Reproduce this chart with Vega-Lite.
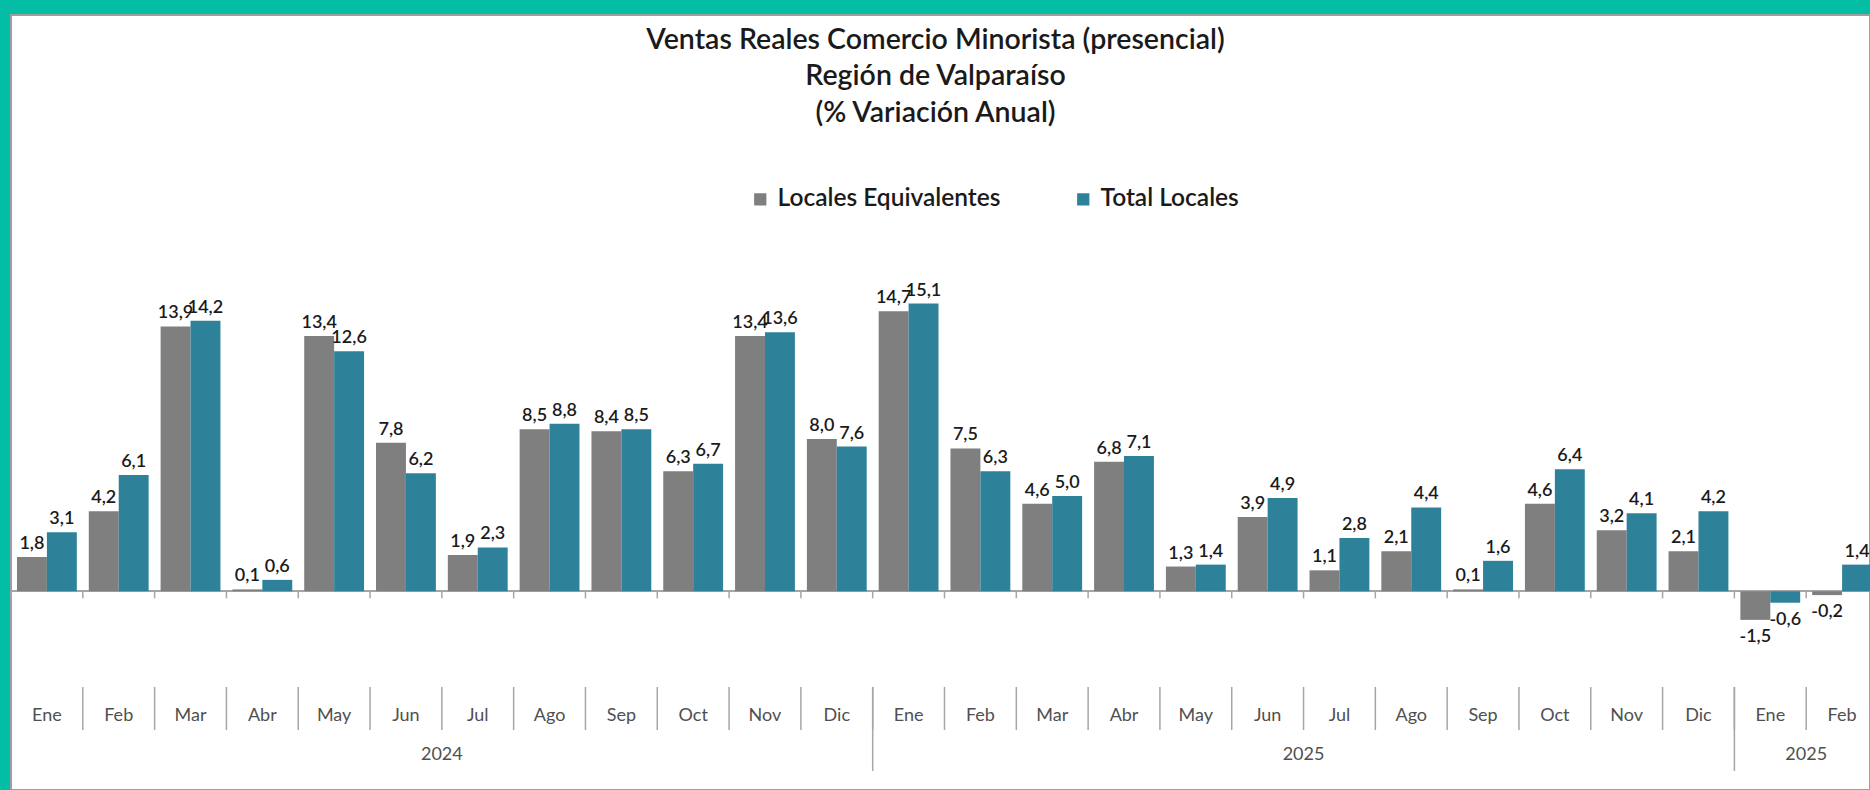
{
  "$schema": "https://vega.github.io/schema/vega-lite/v6.json",
  "width": 1859,
  "height": 775,
  "autosize": {"type": "none"},
  "padding": {"left": 11, "top": 15, "right": 0, "bottom": 0},
  "background": "#03BEA4",
  "title": {
    "text": ["Ventas Reales Comercio Minorista (presencial)", "Región de Valparaíso", "(% Variación Anual)"],
    "font": "Lato",
    "fontSize": 28.5,
    "fontWeight": 600,
    "color": "#1a1a1a",
    "lineHeight": 36.5,
    "anchor": "middle",
    "baseline": "top",
    "offset": 0,
    "dx": -5,
    "dy": 112
  },
  "data": {
    "values": [
      {"p": "2024-01", "mes": "Ene", "anio": "2024", "Locales Equivalentes": 1.8, "Total Locales": 3.1},
      {"p": "2024-02", "mes": "Feb", "anio": "2024", "Locales Equivalentes": 4.2, "Total Locales": 6.1},
      {"p": "2024-03", "mes": "Mar", "anio": "2024", "Locales Equivalentes": 13.9, "Total Locales": 14.2},
      {"p": "2024-04", "mes": "Abr", "anio": "2024", "Locales Equivalentes": 0.1, "Total Locales": 0.6},
      {"p": "2024-05", "mes": "May", "anio": "2024", "Locales Equivalentes": 13.4, "Total Locales": 12.6},
      {"p": "2024-06", "mes": "Jun", "anio": "2024", "Locales Equivalentes": 7.8, "Total Locales": 6.2},
      {"p": "2024-07", "mes": "Jul", "anio": "2024", "Locales Equivalentes": 1.9, "Total Locales": 2.3},
      {"p": "2024-08", "mes": "Ago", "anio": "2024", "Locales Equivalentes": 8.5, "Total Locales": 8.8},
      {"p": "2024-09", "mes": "Sep", "anio": "2024", "Locales Equivalentes": 8.4, "Total Locales": 8.5},
      {"p": "2024-10", "mes": "Oct", "anio": "2024", "Locales Equivalentes": 6.3, "Total Locales": 6.7},
      {"p": "2024-11", "mes": "Nov", "anio": "2024", "Locales Equivalentes": 13.4, "Total Locales": 13.6},
      {"p": "2024-12", "mes": "Dic", "anio": "2024", "Locales Equivalentes": 8.0, "Total Locales": 7.6},
      {"p": "2025-01", "mes": "Ene", "anio": "2025", "Locales Equivalentes": 14.7, "Total Locales": 15.1},
      {"p": "2025-02", "mes": "Feb", "anio": "2025", "Locales Equivalentes": 7.5, "Total Locales": 6.3},
      {"p": "2025-03", "mes": "Mar", "anio": "2025", "Locales Equivalentes": 4.6, "Total Locales": 5.0},
      {"p": "2025-04", "mes": "Abr", "anio": "2025", "Locales Equivalentes": 6.8, "Total Locales": 7.1},
      {"p": "2025-05", "mes": "May", "anio": "2025", "Locales Equivalentes": 1.3, "Total Locales": 1.4},
      {"p": "2025-06", "mes": "Jun", "anio": "2025", "Locales Equivalentes": 3.9, "Total Locales": 4.9},
      {"p": "2025-07", "mes": "Jul", "anio": "2025", "Locales Equivalentes": 1.1, "Total Locales": 2.8},
      {"p": "2025-08", "mes": "Ago", "anio": "2025", "Locales Equivalentes": 2.1, "Total Locales": 4.4},
      {"p": "2025-09", "mes": "Sep", "anio": "2025", "Locales Equivalentes": 0.1, "Total Locales": 1.6},
      {"p": "2025-10", "mes": "Oct", "anio": "2025", "Locales Equivalentes": 4.6, "Total Locales": 6.4},
      {"p": "2025-11", "mes": "Nov", "anio": "2025", "Locales Equivalentes": 3.2, "Total Locales": 4.1},
      {"p": "2025-12", "mes": "Dic", "anio": "2025", "Locales Equivalentes": 2.1, "Total Locales": 4.2},
      {"p": "2026-01", "mes": "Ene", "anio": "2025", "Locales Equivalentes": -1.5, "Total Locales": -0.6},
      {"p": "2026-02", "mes": "Feb", "anio": "2025", "Locales Equivalentes": -0.2, "Total Locales": 1.4}
    ]
  },
  "layer": [
    {
      "mark": {"type": "rule", "color": "#A6A6A6", "strokeWidth": 1.5},
      "encoding": {
        "y": {"datum": 0, "type": "quantitative", "scale": {"domain": [-10.43, 30.25], "nice": false, "zero": false}, "axis": null}
      }
    },
    {
      "mark": {"type": "rule", "color": "#A6A6A6", "strokeWidth": 1.5},
      "encoding": {
        "x": {"field": "p", "type": "ordinal", "sort": "ascending", "bandPosition": 0, "scale": {"type": "band", "paddingInner": 0, "paddingOuter": 0, "range": [0, 1867]}, "axis": null},
        "y": {"datum": 0, "type": "quantitative", "scale": {"domain": [-10.43, 30.25], "nice": false, "zero": false}, "axis": null},
        "y2": {"datum": -0.37}
      }
    },
    {
      "transform": [{"filter": "datum.p != '2024-01'"}],
      "mark": {"type": "rule", "color": "#A6A6A6", "strokeWidth": 1.5},
      "encoding": {
        "x": {"field": "p", "type": "ordinal", "sort": "ascending", "bandPosition": 0, "scale": {"type": "band", "paddingInner": 0, "paddingOuter": 0, "range": [0, 1867]}, "axis": null},
        "y": {"datum": -5.02, "type": "quantitative", "scale": {"domain": [-10.43, 30.25], "nice": false, "zero": false}, "axis": null},
        "y2": {"datum": -7.28}
      }
    },
    {
      "transform": [{"filter": "datum.mes == 'Ene' && datum.p != '2024-01'"}],
      "mark": {"type": "rule", "color": "#A6A6A6", "strokeWidth": 1.5},
      "encoding": {
        "x": {"field": "p", "type": "ordinal", "sort": "ascending", "bandPosition": 0, "scale": {"type": "band", "paddingInner": 0, "paddingOuter": 0, "range": [0, 1867]}, "axis": null},
        "y": {"datum": -5.02, "type": "quantitative", "scale": {"domain": [-10.43, 30.25], "nice": false, "zero": false}, "axis": null},
        "y2": {"datum": -9.43}
      }
    },
    {
      "mark": {"type": "text", "font": "Lato", "fontSize": 18, "color": "#505050", "baseline": "middle", "align": "center"},
      "encoding": {
        "x": {"field": "p", "type": "ordinal", "sort": "ascending", "scale": {"type": "band", "paddingInner": 0, "paddingOuter": 0, "range": [0, 1867]}, "axis": null},
        "y": {"datum": -6.52, "type": "quantitative", "scale": {"domain": [-10.43, 30.25], "nice": false, "zero": false}, "axis": null},
        "text": {"field": "mes"}
      }
    },
    {
      "transform": [{"filter": "datum.mes == 'Jul' || datum.p == '2026-02'"}],
      "mark": {"type": "text", "font": "Lato", "fontSize": 18, "color": "#505050", "baseline": "middle", "align": "center"},
      "encoding": {
        "x": {"field": "p", "type": "ordinal", "sort": "ascending", "bandPosition": 0, "scale": {"type": "band", "paddingInner": 0, "paddingOuter": 0, "range": [0, 1867]}, "axis": null},
        "y": {"datum": -8.57, "type": "quantitative", "scale": {"domain": [-10.43, 30.25], "nice": false, "zero": false}, "axis": null},
        "text": {"field": "anio"}
      }
    },
    {
      "transform": [{"fold": ["Locales Equivalentes", "Total Locales"], "as": ["serie", "v"]}],
      "mark": {"type": "bar"},
      "encoding": {
        "x": {"field": "p", "type": "ordinal", "sort": "ascending", "scale": {"type": "band", "paddingInner": 0, "paddingOuter": 0, "range": [0, 1867]}, "axis": null},
        "xOffset": {"field": "serie", "type": "nominal", "scale": {"domain": ["Locales Equivalentes", "Total Locales"], "paddingInner": 0, "paddingOuter": 0.2}},
        "y": {"field": "v", "type": "quantitative", "stack": null, "scale": {"domain": [-10.43, 30.25], "nice": false, "zero": false}, "axis": null},
        "y2": {"datum": 0},
        "color": {
          "field": "serie",
          "type": "nominal",
          "scale": {"domain": ["Locales Equivalentes", "Total Locales"], "range": ["#7F7F7F", "#2D8299"]},
          "legend": {
            "orient": "none",
            "legendX": 737,
            "legendY": 172,
            "direction": "horizontal",
            "title": null,
            "padding": 0,
            "symbolType": "square",
            "symbolSize": 150,
            "symbolStrokeWidth": 0,
            "labelFont": "Lato",
            "labelFontSize": 24.5,
            "labelFontWeight": 600,
            "labelColor": "#1a1a1a",
            "labelLimit": 500,
            "labelOffset": 5,
            "columnPadding": 70
          }
        }
      }
    },
    {
      "transform": [{"fold": ["Locales Equivalentes", "Total Locales"], "as": ["serie", "v"]}, {"filter": "datum.v >= 0"}],
      "mark": {"type": "text", "font": "Lato", "fontSize": 18, "fontWeight": 600, "color": "#1a1a1a", "baseline": "bottom", "align": "center", "dy": -4},
      "encoding": {
        "x": {"field": "p", "type": "ordinal", "sort": "ascending", "scale": {"type": "band", "paddingInner": 0, "paddingOuter": 0, "range": [0, 1867]}, "axis": null},
        "xOffset": {"field": "serie", "type": "nominal", "scale": {"domain": ["Locales Equivalentes", "Total Locales"], "paddingInner": 0, "paddingOuter": 0.2}},
        "y": {"field": "v", "type": "quantitative", "stack": null, "scale": {"domain": [-10.43, 30.25], "nice": false, "zero": false}, "axis": null},
        "text": {"field": "v", "type": "quantitative", "format": ".1f"}
      }
    },
    {
      "transform": [{"fold": ["Locales Equivalentes", "Total Locales"], "as": ["serie", "v"]}, {"filter": "datum.v < 0"}],
      "mark": {"type": "text", "font": "Lato", "fontSize": 18, "fontWeight": 600, "color": "#1a1a1a", "baseline": "top", "align": "center", "dy": 8},
      "encoding": {
        "x": {"field": "p", "type": "ordinal", "sort": "ascending", "scale": {"type": "band", "paddingInner": 0, "paddingOuter": 0, "range": [0, 1867]}, "axis": null},
        "xOffset": {"field": "serie", "type": "nominal", "scale": {"domain": ["Locales Equivalentes", "Total Locales"], "paddingInner": 0, "paddingOuter": 0.2}},
        "y": {"field": "v", "type": "quantitative", "stack": null, "scale": {"domain": [-10.43, 30.25], "nice": false, "zero": false}, "axis": null},
        "text": {"field": "v", "type": "quantitative", "format": ".1f"}
      }
    }
  ],
  "config": {
    "font": "Lato",
    "locale": {"number": {"decimal": ",", "thousands": ".", "grouping": [3], "currency": ["$", ""], "minus": "-"}},
    "view": {"fill": "white", "stroke": "#9E9E9E", "strokeWidth": 2}
  }
}
